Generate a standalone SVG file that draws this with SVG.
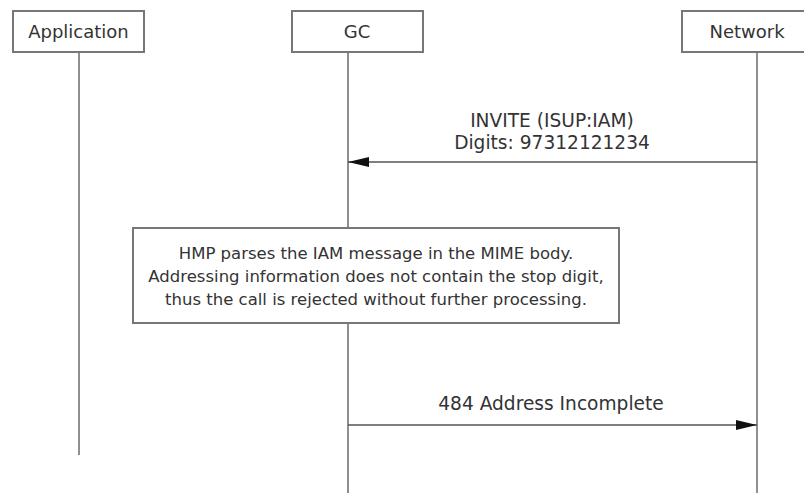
<svg xmlns="http://www.w3.org/2000/svg" width="804" height="493" viewBox="0 0 804 493">
<style>
.box{fill:#fff;stroke:#777;stroke-width:2}
.life{stroke:#6a6a6a;stroke-width:1.5;fill:none}
.msg{stroke:#555;stroke-width:1.5;fill:none}
text{font-family:"DejaVu Sans","Verdana",sans-serif;font-size:16.5px;fill:#333;text-anchor:middle}
.hd{font-size:18px}
.lb{font-size:18.6px}
</style>
<defs>
<marker id="ah" markerWidth="21" markerHeight="10" refX="21" refY="5" orient="auto" markerUnits="userSpaceOnUse">
<path d="M0,0 L21,5 L0,10 Z" fill="#111"/>
</marker>
</defs>
<rect width="804" height="493" fill="#fff"/>
<g id="application">
<line class="life" x1="79" y1="52" x2="79" y2="455"/>
<rect class="box" x="13" y="11" width="131" height="41"/>
<text class="hd" x="78.5" y="37.5">Application</text>
</g>
<g id="gc">
<line class="life" x1="348" y1="52" x2="348" y2="493"/>
<rect class="box" x="292" y="11" width="131" height="41"/>
<text class="hd" x="357" y="37.5">GC</text>
</g>
<g id="network">
<line class="life" x1="757" y1="52" x2="757" y2="493"/>
<rect class="box" x="682" y="11" width="131" height="41"/>
<text class="hd" x="747" y="37.5">Network</text>
</g>
<g id="note">
<rect class="box" x="133" y="228" width="486" height="95"/>
<text x="376" y="259">HMP parses the IAM message in the MIME body.</text>
<text x="376" y="282">Addressing information does not contain the stop digit,</text>
<text x="376" y="305">thus the call is rejected without further processing.</text>
</g>
<g id="connectors">
<line class="msg" x1="757" y1="162" x2="348" y2="162" marker-end="url(#ah)"/>
<text class="lb" x="552" y="127">INVITE (ISUP:IAM)</text>
<text class="lb" x="552" y="149">Digits: 97312121234</text>
<line class="msg" x1="348" y1="425" x2="757" y2="425" marker-end="url(#ah)"/>
<text class="lb" x="551" y="410">484 Address Incomplete</text>
</g>
</svg>
